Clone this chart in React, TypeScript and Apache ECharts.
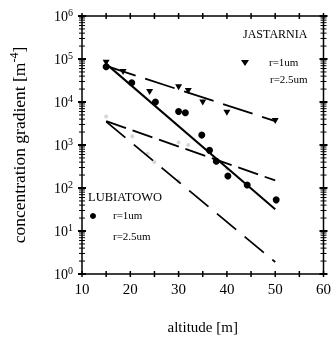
import React, { useEffect, useRef } from "react";
import * as echarts from "echarts";

// Jastarnia r=1um (triangles)
const jastX = [15, 18.5, 24, 30, 32, 35, 40, 50];
const jastY = [82000, 50000, 17000, 22000, 18000, 9800, 5600, 3600];
// Lubiatowo r=1um (dots)
const lubX = [15, 20.3, 25.2, 30, 31.4, 34.8, 36.4, 37.8, 40.2, 44.2, 50.2];
const lubY = [66000, 28000, 10000, 6000, 5600, 1700, 750, 420, 190, 117, 53];
// r=2.5um (faint points)
const jast25X = [15, 30, 32, 40];
const jast25Y = [4600, 1150, 1000, 280];
const lub25X = [20.4, 23.6, 25, 30];
const lub25Y = [1600, 630, 400, 145];
// fitted lines
const fitX = [15, 50];
const lubFit1 = [77000, 32];
const jastFit1 = [69000, 3600];
const jastFit25 = [3600, 150];
const lubFit25 = [3500, 1.9];

const xMin = 10, xMax = 60, xStep = 5;
const yMin = 1, yMax = 1e6;

const FONT = "Liberation Serif";

function pairs(xs: number[], ys: number[]) {
  return xs.map((x, i) => [x, ys[i]]);
}

export default function App() {
  const ref = useRef<HTMLDivElement>(null);
  useEffect(() => {
    if (!ref.current) return;
    const chart = echarts.init(ref.current, null, { renderer: "svg" });

    const yTicks: number[][] = [];
    for (let d = yMin; d < yMax; d *= 10) {
      for (let k = 1; k < 10; k++) yTicks.push([xMin, d * k, k === 1 ? 1 : 0]);
    }
    yTicks.push([xMin, yMax, 1]);
    const xTicks: number[][] = [];
    for (let v = xMin; v <= xMax; v += xStep) xTicks.push([v, yMin]);

    const tickStyle = { stroke: "#000", lineWidth: 1 };

    chart.setOption({
      animation: false,
      grid: {
        left: 77, right: 7, top: 16, bottom: 64,
        show: true, borderColor: "#000", borderWidth: 1.5,
      },
      xAxis: {
        type: "value", min: xMin, max: xMax, interval: xStep,
        axisLine: { show: false }, axisTick: { show: false }, splitLine: { show: false },
        axisLabel: { interval: 1, fontFamily: FONT, fontSize: 15, color: "#000", margin: 7,
          formatter: (v: number) => (v % 10 === 0 ? String(v) : "") },
        name: "altitude [m]", nameLocation: "middle", nameGap: 45,
        nameTextStyle: { fontFamily: FONT, fontSize: 15, color: "#000" },
      },
      yAxis: {
        type: "log", min: yMin, max: yMax, logBase: 10,
        axisLine: { show: false }, axisTick: { show: false }, splitLine: { show: false },
        axisLabel: {
          fontFamily: FONT, color: "#000", margin: 9,
          formatter: (v: number) => `{b|10}{s|${Math.round(Math.log10(v))}}`,
          rich: {
            b: { fontFamily: FONT, fontSize: 14, color: "#000" },
            s: { fontFamily: FONT, fontSize: 10, color: "#000", padding: [0, 0, 8, 0] },
          },
        },
        name: "{a|concentration gradient [m}{s|-4}{a|]}",
        nameLocation: "middle", nameGap: 52, nameRotate: 90,
        nameTextStyle: {
          rich: {
            a: { fontFamily: FONT, fontSize: 17.5, color: "#000" },
            s: { fontFamily: FONT, fontSize: 12, color: "#000", padding: [0, 0, 10, 0] },
          },
        },
      },
      series: [
        {
          type: "custom", clip: false, silent: true, z: 10,
          data: yTicks, encode: { x: 0, y: 1 },
          renderItem: (p: any, api: any) => {
            const v = api.value(1), major = api.value(2);
            const l = api.coord([xMin, v]), r = api.coord([xMax, v]);
            const len = major ? 4 : 3;
            const st = { ...tickStyle, lineWidth: major ? 2 : 1 };
            return { type: "group", children: [
              { type: "line", shape: { x1: l[0] - len, y1: l[1], x2: l[0] + len, y2: l[1] }, style: st },
              { type: "line", shape: { x1: r[0] - len, y1: r[1], x2: r[0] + len, y2: r[1] }, style: st },
            ] };
          },
        },
        {
          type: "custom", clip: false, silent: true, z: 10,
          data: xTicks, encode: { x: 0, y: 1 },
          renderItem: (p: any, api: any) => {
            const v = api.value(0);
            const b = api.coord([v, yMin]), t = api.coord([v, yMax]);
            const st = { ...tickStyle, lineWidth: 1.5 };
            return { type: "group", children: [
              { type: "line", shape: { x1: b[0], y1: b[1] - 3, x2: b[0], y2: b[1] + 3 }, style: st },
              { type: "line", shape: { x1: t[0], y1: t[1] - 3, x2: t[0], y2: t[1] + 3 }, style: st },
            ] };
          },
        },
        { type: "line", data: pairs(fitX, lubFit1), showSymbol: false, symbol: "none",
          lineStyle: { color: "#000", width: 2 } },
        { type: "line", data: pairs(fitX, jastFit1), showSymbol: false, symbol: "none",
          lineStyle: { color: "#000", width: 1.8, type: [31, 10] } },
        { type: "line", data: pairs(fitX, jastFit25), showSymbol: false, symbol: "none",
          lineStyle: { color: "#000", width: 1.8, type: [21, 7] } },
        { type: "line", data: pairs(fitX, lubFit25), showSymbol: false, symbol: "none",
          lineStyle: { color: "#000", width: 1.8, type: [25, 11] } },
        { type: "scatter", data: pairs(jast25X, jast25Y), symbol: "circle", symbolSize: 4,
          itemStyle: { color: "#d6d6d6", opacity: 1 } },
        { type: "scatter", data: pairs(lub25X, lub25Y), symbol: "circle", symbolSize: 4,
          itemStyle: { color: "#d6d6d6", opacity: 1 } },
        { type: "scatter", data: pairs(lubX, lubY), symbol: "circle", symbolSize: 7,
          itemStyle: { color: "#000", opacity: 1 } },
        { type: "scatter", data: pairs(jastX, jastY), symbol: "triangle", symbolRotate: 180,
          symbolSize: [7, 6], itemStyle: { color: "#000", opacity: 1 } },
      ],
      graphic: [
        { type: "text", left: 243, top: 28, style: { text: "JASTARNIA", font: `12px "${FONT}"`, fill: "#000" } },
        { type: "polygon", shape: { points: [[241, 60], [249, 60], [245, 66]] }, style: { fill: "#000" } },
        { type: "text", left: 269, top: 56, style: { text: "r=1um", font: `11px "${FONT}"`, fill: "#000" } },
        { type: "text", left: 270, top: 73, style: { text: "r=2.5um", font: `11px "${FONT}"`, fill: "#000" } },
        { type: "text", left: 88, top: 190, style: { text: "LUBIATOWO", font: `12.5px "${FONT}"`, fill: "#000" } },
        { type: "circle", shape: { cx: 93, cy: 216, r: 3 }, style: { fill: "#000" } },
        { type: "text", left: 113, top: 209, style: { text: "r=1um", font: `11px "${FONT}"`, fill: "#000" } },
        { type: "text", left: 113, top: 230, style: { text: "r=2.5um", font: `11px "${FONT}"`, fill: "#000" } },
      ],
    });
    return () => chart.dispose();
  }, []);
  return <div ref={ref} style={{ position: "fixed", left: 0, top: 0, width: 334, height: 339 }} />;
}
